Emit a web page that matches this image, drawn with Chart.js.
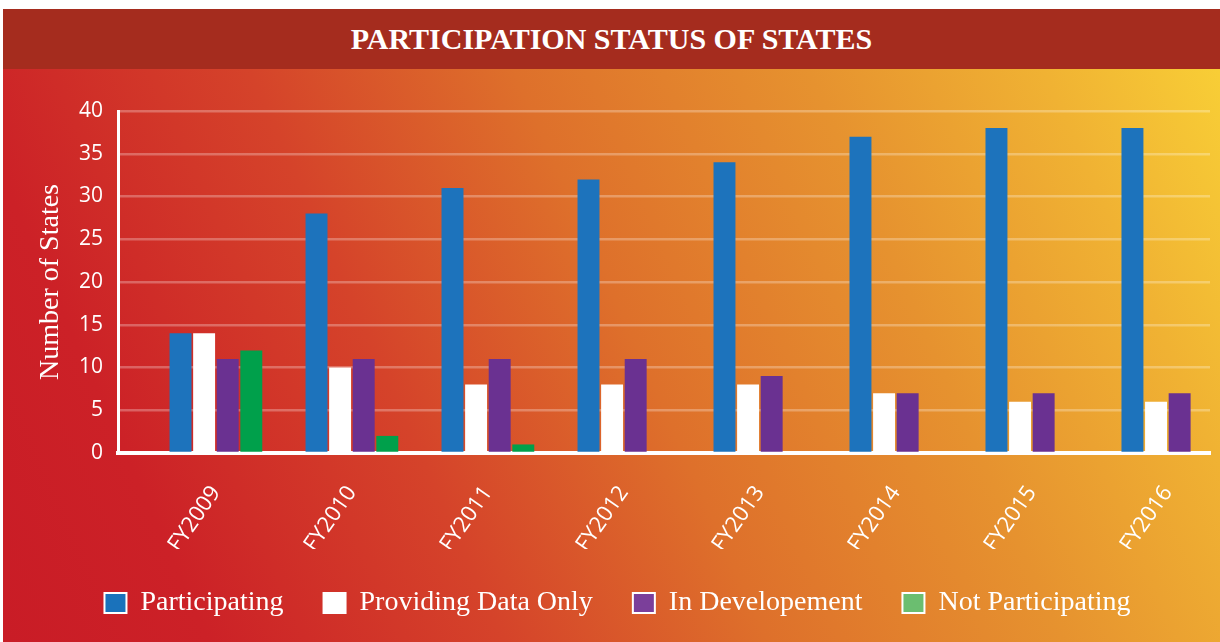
<!DOCTYPE html>
<html>
<head>
<meta charset="utf-8">
<script src="https://cdn.jsdelivr.net/npm/chart.js@4"></script>
<style>
    html, body { margin: 0; padding: 0; background: #fff; }
    body { width: 1220px; height: 642px; position: relative; overflow: hidden; }
    .title-bar {
        position: absolute; left: 3px; top: 9px; width: 1217px; height: 60px;
        background: #a52c1e; color: #fff;
        font-family: 'Liberation Serif', serif; font-weight: bold; font-size: 30px;
        display: flex; align-items: center; justify-content: center;
    }
    .chart-box {
        position: absolute; left: 3px; top: 69px; width: 1217px; height: 573px;
        background: linear-gradient(66deg, #c91c26 0%, #cc2127 14%, #d5432a 34%, #de702b 52%, #e6922f 72%, #f0b233 88%, #f8ce36 100%);
    }
</style>
</head>
<body>
<div class="title-bar">PARTICIPATION STATUS OF STATES</div>
<div class="chart-box"><canvas id="chart"></canvas></div>
<script>
// valores
const years = ['FY2009', 'FY2010', 'FY2011', 'FY2012', 'FY2013', 'FY2014', 'FY2015', 'FY2016'];
const participating = [14, 28, 31, 32, 34, 37, 38, 38];
const providingDataOnly = [14, 10, 8, 8, 8, 7, 6, 6];
const inDevelopement = [11, 11, 11, 11, 9, 7, 7, 7];
const notParticipating = [12, 2, 1, 0, 0, 0, 0, 0];
const yTicks = [0, 5, 10, 15, 20, 25, 30, 35, 40];

const barColors = ['#1d73bc', '#ffffff', '#6a3191', '#00a04b'];
const legendColors = ['#1a72bb', '#ffffff', '#7b3f9a', '#6bbe70'];

const serif = "'Liberation Serif', serif";
const sans = "'Open Sans', sans-serif";

// o eixo x original deixa mais espaço à esquerda do primeiro grupo
const xStartValue = -0.72;
const xValueRange = 8.03;

new Chart(document.getElementById('chart'), {
    type: 'bar',
    data: {
        labels: years,
        datasets: [
            { label: 'Participating', data: participating, backgroundColor: barColors[0] },
            { label: 'Providing Data Only', data: providingDataOnly, backgroundColor: barColors[1] },
            { label: 'In Developement', data: inDevelopement, backgroundColor: barColors[2] },
            { label: 'Not Participating', data: notParticipating, backgroundColor: barColors[3] }
        ]
    },
    options: {
        responsive: true,
        maintainAspectRatio: false,
        animation: false,
        layout: { padding: { top: 42, right: 10, bottom: 15, left: 22 } },
        datasets: {
            bar: { categoryPercentage: 0.694, barPercentage: 0.93 }
        },
        plugins: {
            tooltip: { enabled: false },
            legend: {
                position: 'bottom',
                labels: {
                    color: '#fff',
                    font: { family: serif, size: 28 },
                    boxWidth: 22,
                    boxHeight: 20,
                    padding: 40,
                    generateLabels(chart) {
                        return chart.data.datasets.map((ds, i) => ({
                            text: ds.label,
                            fillStyle: legendColors[i],
                            strokeStyle: '#fff',
                            lineWidth: 2,
                            fontColor: '#fff',
                            hidden: false,
                            datasetIndex: i
                        }));
                    }
                }
            }
        },
        scales: {
            x: {
                afterBuildTicks(scale) {
                    scale._startValue = xStartValue;
                    scale._valueRange = xValueRange;
                },
                afterFit(scale) { scale.height = 96; },
                grid: { color: 'transparent', drawTicks: false },
                border: { display: true, color: '#fff', width: 4 },
                ticks: {
                    color: '#fff',
                    font: { family: sans, size: 22 },
                    maxRotation: 55,
                    minRotation: 55,
                    padding: 28
                }
            },
            y: {
                min: 0,
                max: 40,
                afterFit(scale) { scale.width = 93; },
                afterBuildTicks(scale) { scale.ticks = yTicks.map(v => ({ value: v })); },
                grid: { color: 'rgba(255,255,255,0.28)', lineWidth: 2.5, drawTicks: false },
                border: { display: true, color: '#fff', width: 3 },
                ticks: {
                    color: '#fff',
                    font: { family: sans, size: 21 },
                    padding: 15
                },
                title: {
                    display: true,
                    text: 'Number of States',
                    color: '#fff',
                    font: { family: serif, size: 28 },
                    padding: { top: 9, bottom: 0 }
                }
            }
        }
    }
});
</script>
</body>
</html>
